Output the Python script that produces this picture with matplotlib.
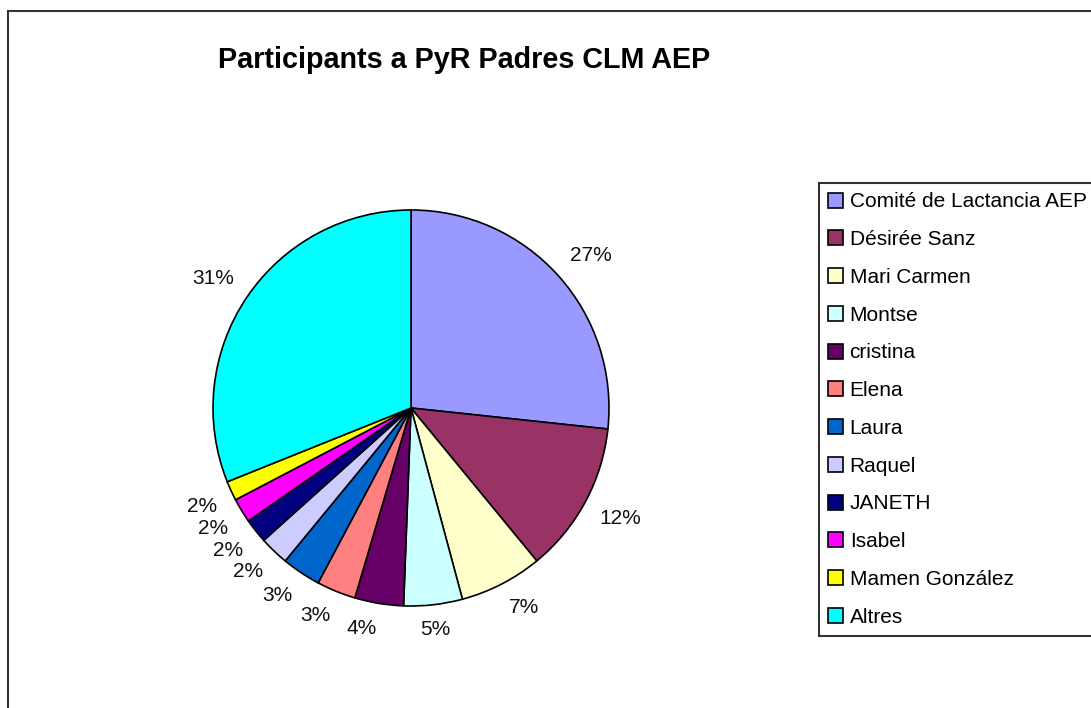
import numpy as np
import matplotlib
matplotlib.use("Agg")
import matplotlib.pyplot as plt
from matplotlib.patches import Rectangle

plt.rcParams['font.family'] = ['Liberation Sans', 'DejaVu Sans']

labels = ["Comité de Lactancia AEP", "Désirée Sanz", "Mari Carmen", "Montse",
          "cristina", "Elena", "Laura", "Raquel", "JANETH", "Isabel",
          "Mamen González", "Altres"]
counts = [67, 31, 17, 12, 10, 8, 8, 6, 5, 5, 4, 78]
colors = ["#9999FF", "#993366", "#FFFFCC", "#CCFFFF", "#660066", "#FF8080",
          "#0066CC", "#CCCCFF", "#000080", "#FF00FF", "#FFFF00", "#00FFFF"]
title = "Participants a PyR Padres CLM AEP"

W, H = 1091, 708
fig = plt.figure(figsize=(W / 100, H / 100), dpi=100)

# outer chart border
fig.patches.append(Rectangle((8 / W, -0.1), 1.2, 1 - 11 / H + 0.1,
                             transform=fig.transFigure, fill=False,
                             edgecolor="#333333", linewidth=1.5))

cx, cy, R = 411, 408, 198
ax = fig.add_axes([(cx - R) / W, (H - cy - R) / H, 2 * R / W, 2 * R / H])
wedges, texts, autotexts = ax.pie(
    counts, colors=colors, startangle=90, counterclock=False,
    autopct='%1.0f%%', pctdistance=1.1,
    wedgeprops=dict(edgecolor="black", linewidth=1.2),
    textprops=dict(fontsize=15, color="#111111"))
ax.set_xlim(-1, 1)
ax.set_ylim(-1, 1)
ax.axis("off")

for w, t in zip(wedges, autotexts):
    mid = np.deg2rad((w.theta1 + w.theta2) / 2)
    c, s = np.cos(mid), np.sin(mid)
    r = 1.08
    t.set_position((r * c, r * s))
    t.set_ha('left' if c > 0.15 else ('right' if c < -0.15 else 'center'))
    t.set_va('bottom' if s > 0.15 else ('top' if s < -0.15 else 'center'))

fig.text(464 / W, 1 - 68 / H, title, ha='center', va='baseline',
         fontsize=20.7, fontweight='bold')

leg = fig.legend(wedges, labels, loc='upper left',
                 bbox_to_anchor=(819 / W, 1 - 183 / H),
                 fontsize=15, frameon=True, fancybox=False,
                 edgecolor="black", handlelength=0.72, handleheight=0.72,
                 handletextpad=0.3, labelspacing=0.9, borderpad=0.45,
                 borderaxespad=0)
leg.get_frame().set_linewidth(1.5)
for h in leg.legend_handles:
    h.set_linewidth(1.2)

fig.savefig("out.png", dpi=100)
